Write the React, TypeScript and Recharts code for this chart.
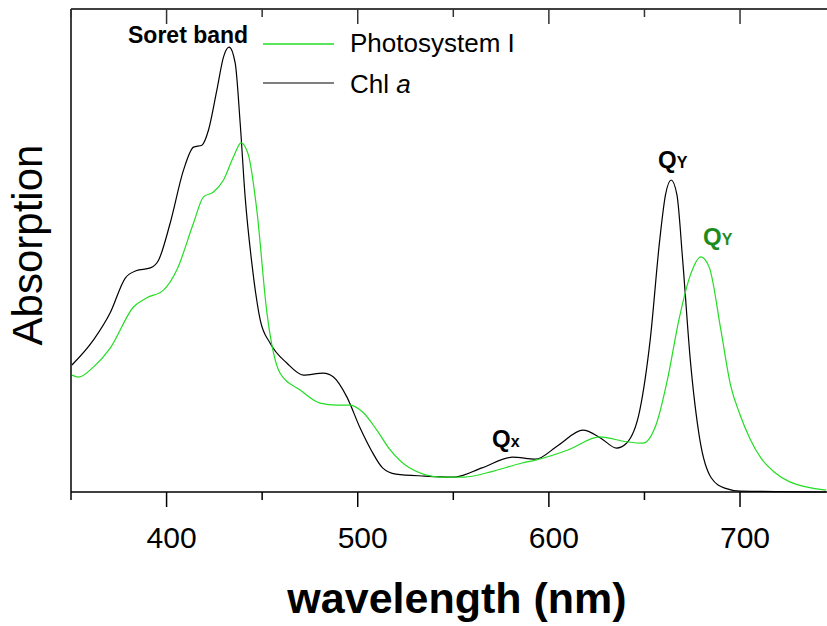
import React from 'react';
import { LineChart, Line, XAxis, YAxis } from 'recharts';

// wavelength (nm) / absorption (a.u., 0 = baseline)
const chlNm = [350.5, 361.8, 370.5, 378.4, 384, 391.5, 395.8, 401.9, 408.9, 414.1, 418.5, 421.9, 426.3, 429.8, 432.7, 435.9, 438.5, 441.1, 444.6, 449, 454.2, 462.9, 471.6, 482, 487.3, 494.3, 501.2, 507, 513, 520, 535, 550.6, 565, 581, 593, 605, 617.8, 627, 635.4, 640.6, 647.6, 653, 658, 661, 664, 667, 670, 674, 679, 685, 692, 700, 745];
const chlAbs = [0.263, 0.315, 0.371, 0.443, 0.458, 0.464, 0.48, 0.557, 0.667, 0.714, 0.718, 0.749, 0.832, 0.901, 0.921, 0.888, 0.764, 0.611, 0.474, 0.356, 0.308, 0.267, 0.242, 0.246, 0.238, 0.197, 0.133, 0.087, 0.05, 0.037, 0.033, 0.031, 0.05, 0.072, 0.068, 0.097, 0.128, 0.112, 0.091, 0.101, 0.17, 0.315, 0.522, 0.615, 0.646, 0.615, 0.48, 0.273, 0.108, 0.029, 0.008, 0.002, 0];

const psiNm = [350.5, 354, 361.8, 370.5, 382.7, 389.7, 398.4, 405.4, 414.1, 419.3, 424.5, 429.8, 435, 439, 442.8, 447.2, 452.5, 459.4, 469.9, 480.3, 489, 496, 503, 510, 517, 527, 543, 555.8, 569, 586, 593, 610, 626.7, 640.6, 649, 656.4, 662, 668, 674, 679.5, 684, 690, 695, 700, 705, 711, 718, 726, 745];
const psiAbs = [0.242, 0.238, 0.259, 0.298, 0.383, 0.402, 0.418, 0.46, 0.557, 0.611, 0.621, 0.646, 0.694, 0.723, 0.698, 0.584, 0.371, 0.246, 0.211, 0.184, 0.18, 0.18, 0.164, 0.128, 0.087, 0.05, 0.031, 0.031, 0.041, 0.06, 0.066, 0.087, 0.114, 0.104, 0.101, 0.143, 0.232, 0.356, 0.449, 0.487, 0.464, 0.335, 0.222, 0.16, 0.112, 0.07, 0.041, 0.021, 0.004];

const xTicks = [350, 400, 450, 500, 550, 600, 650, 700];
const majorTicks = [400, 500, 600, 700];

const chlData = chlNm.map((nm, i) => ({ nm, abs: chlAbs[i] }));
const psiData = psiNm.map((nm, i) => ({ nm, abs: psiAbs[i] }));

const FONT = '"Liberation Sans", Arial, sans-serif';
const GREEN = '#22dd22';

const BottomTick = (props: any) => {
  const { x, y, payload } = props;
  const major = majorTicks.includes(payload.value);
  return (
    <g>
      <line x1={x} y1={y} x2={x} y2={y + (major ? 15 : 8)} stroke="#000" strokeWidth={1.5} />
      {major && (
        <text x={x + 5} y={y + 56} textAnchor="middle" fontSize={30} fontFamily={FONT} fill="#000">
          {payload.value}
        </text>
      )}
    </g>
  );
};

const TopTick = (props: any) => {
  const { x, y, payload } = props;
  const major = majorTicks.includes(payload.value);
  return <line x1={x} y1={y} x2={x} y2={y + (major ? 15 : 8)} stroke="#333" strokeWidth={1.5} />;
};

export default function App() {
  return (
    <div style={{ position: 'absolute', left: 0, top: 0, width: 827, height: 626, background: '#fff', overflow: 'hidden' }}>
      <LineChart width={827} height={626} margin={{ top: 0, right: 0, bottom: 0, left: 70 }}>
        <XAxis
          xAxisId="b"
          type="number"
          dataKey="nm"
          domain={[350, 745.5]}
          allowDataOverflow
          ticks={xTicks}
          interval={0}
          height={134}
          tickSize={0}
          tickMargin={0}
          tick={<BottomTick />}
          axisLine={{ stroke: '#000', strokeWidth: 1.5 }}
        />
        <XAxis
          xAxisId="t"
          orientation="top"
          type="number"
          dataKey="nm"
          domain={[350, 745.5]}
          allowDataOverflow
          ticks={xTicks}
          interval={0}
          height={9}
          tickSize={0}
          tickMargin={0}
          tick={<TopTick />}
          axisLine={{ stroke: '#000', strokeWidth: 1.5 }}
        />
        <YAxis
          type="number"
          domain={[0, 1]}
          width={1}
          tick={false}
          tickLine={false}
          axisLine={{ stroke: '#000', strokeWidth: 1.5 }}
        />
        <Line
          xAxisId="b"
          data={chlData}
          dataKey="abs"
          type="monotone"
          stroke="#000"
          strokeWidth={1.2}
          dot={false}
          isAnimationActive={false}
        />
        <Line
          xAxisId="b"
          data={psiData}
          dataKey="abs"
          type="monotone"
          stroke={GREEN}
          strokeWidth={1.2}
          dot={false}
          isAnimationActive={false}
        />
      </LineChart>

      <svg width={827} height={626} style={{ position: 'absolute', left: 0, top: 0, pointerEvents: 'none' }} fontFamily={FONT}>
        <text x={128} y={43} fontSize={23} fontWeight="bold" fill="#000">Soret band</text>

        <line x1={263} y1={44} x2={334} y2={44} stroke={GREEN} strokeWidth={1.5} />
        <text x={350} y={52} fontSize={26} fill="#000">Photosystem I</text>
        <line x1={263} y1={83} x2={334} y2={83} stroke="#000" strokeWidth={1.2} />
        <text x={350} y={93} fontSize={26} fill="#000">
          Chl <tspan fontStyle="italic">a</tspan>
        </text>

        <text x={492} y={447} fontWeight="bold" fill="#000">
          <tspan fontSize={24}>Q</tspan>
          <tspan fontSize={16}>x</tspan>
        </text>
        <text x={658} y={168} fontWeight="bold" fill="#000">
          <tspan fontSize={24}>Q</tspan>
          <tspan fontSize={16}>Y</tspan>
        </text>
        <text x={703} y={245} fontWeight="bold" fill="#1e8b1e">
          <tspan fontSize={24}>Q</tspan>
          <tspan fontSize={16}>Y</tspan>
        </text>

        <text x={42} y={245} fontSize={42} textAnchor="middle" fill="#000" transform="rotate(-90 42 245)">
          Absorption
        </text>
        <text x={457} y={613} fontSize={43} fontWeight="bold" textAnchor="middle" fill="#000">
          wavelength (nm)
        </text>
      </svg>
    </div>
  );
}
